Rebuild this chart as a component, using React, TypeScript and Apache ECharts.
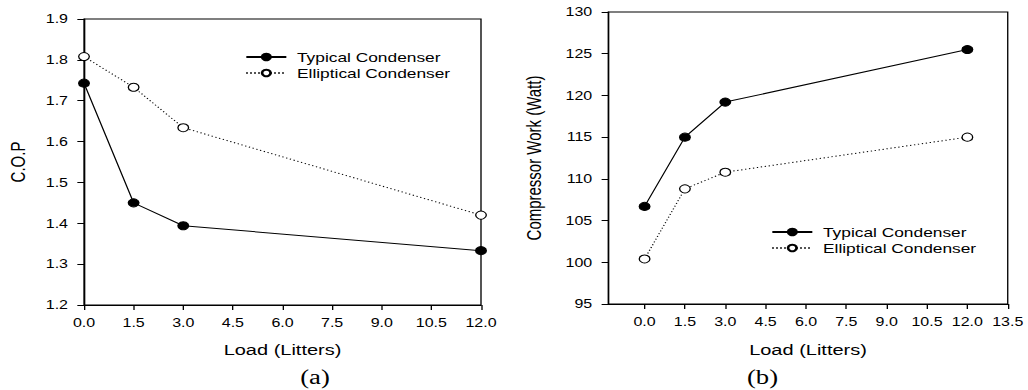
import React, { useEffect, useRef } from "react";
import * as echarts from "echarts";

// Load in litres for every measurement
const loads = [0, 1.5, 3, 12];

// (a) coefficient of performance
const copTypical = [1.743, 1.45, 1.394, 1.333];
const copElliptical = [1.808, 1.733, 1.634, 1.42];

// (b) compressor work in watts
const workTypical = [106.7, 115.0, 119.2, 125.5];
const workElliptical = [100.4, 108.8, 110.8, 115.0];

const seriesNames = ["Typical Condenser", "Elliptical Condenser"];
const panelLabels = ["(a)", "(b)"];
const xTicksRight = [0, 1.5, 3, 4.5, 6, 7.5, 9, 10.5, 12, 13.5];

// The figure is drawn narrow and widened horizontally as a whole.
const STRETCH = 4 / 3;
const WIDTH = Math.round(1028 / STRETCH);
const HEIGHT = 390;

const FONT = "'Liberation Sans', Arial, sans-serif";
const SERIF = "'Liberation Serif', 'Times New Roman', serif";

const pairs = (ys: number[]) => loads.map((x, i) => [x, ys[i]]);

const tickLabel = {
  color: "#000",
  fontFamily: FONT,
  fontSize: 12,
  margin: 12,
};

const axisName = {
  color: "#000",
  fontFamily: FONT,
  fontSize: 15,
};

const axisLine = { show: true, onZero: false, lineStyle: { color: "#000", width: 1 } };
const axisTick = { show: true, length: 5, lineStyle: { color: "#000" } };

const solidSeries = (name: string, data: number[][], idx: number) => ({
  type: "line",
  name,
  data,
  xAxisIndex: idx,
  yAxisIndex: idx,
  symbol: "circle",
  symbolSize: 8,
  itemStyle: { color: "#000", borderColor: "#000", borderWidth: 1 },
  lineStyle: { color: "#000", width: 1, type: "solid" },
  z: 3,
});

const dottedSeries = (name: string, data: number[][], idx: number) => ({
  type: "line",
  name,
  data,
  xAxisIndex: idx,
  yAxisIndex: idx,
  symbol: "circle",
  symbolSize: 8,
  itemStyle: { color: "#fff", borderColor: "#000", borderWidth: 1 },
  lineStyle: { color: "#000", width: 1, type: [1, 2] },
  z: 3,
});

const legendBase = {
  orient: "vertical",
  padding: 0,
  itemWidth: 30,
  itemHeight: 8,
  itemGap: 2,
  data: seriesNames,
  textStyle: {
    color: "#000",
    fontFamily: FONT,
    fontSize: 13,
    lineHeight: 14,
    padding: [0, 0, 0, 3],
  },
};

export default function App() {
  const ref = useRef<HTMLDivElement>(null);

  useEffect(() => {
    if (!ref.current) return;
    const chart = echarts.init(ref.current, undefined, { renderer: "svg" });
    chart.setOption({
      animation: false,
      backgroundColor: "#fff",
      grid: [
        {
          left: 63,
          right: WIDTH - 360.75,
          top: 19,
          bottom: HEIGHT - 305,
          show: true,
          borderColor: "#000",
          borderWidth: 1,
          backgroundColor: "transparent",
        },
        {
          left: 456.2,
          right: WIDTH - 755.8,
          top: 12,
          bottom: HEIGHT - 304,
          show: true,
          borderColor: "#000",
          borderWidth: 1,
          backgroundColor: "transparent",
        },
      ],
      xAxis: [
        {
          type: "value",
          gridIndex: 0,
          min: 0,
          max: 12,
          interval: 1.5,
          name: "Load (Litters)",
          nameLocation: "middle",
          nameGap: 37,
          nameTextStyle: axisName,
          axisLine,
          axisTick,
          axisLabel: { ...tickLabel, formatter: (v: number) => v.toFixed(1) },
          splitLine: { show: false },
        },
        {
          type: "value",
          gridIndex: 1,
          min: -1.35,
          max: 13.5,
          name: "Load (Litters)",
          nameLocation: "middle",
          nameGap: 38,
          nameTextStyle: axisName,
          axisLine,
          axisTick: { ...axisTick, customValues: xTicksRight },
          axisLabel: {
            ...tickLabel,
            customValues: xTicksRight,
            formatter: (v: number) => v.toFixed(1),
          },
          splitLine: { show: false },
        },
      ],
      yAxis: [
        {
          type: "value",
          gridIndex: 0,
          min: 1.2,
          max: 1.9,
          interval: 0.1,
          name: "C.O.P",
          nameLocation: "middle",
          nameGap: 42,
          nameTextStyle: axisName,
          axisLine,
          axisTick,
          axisLabel: { ...tickLabel, formatter: (v: number) => v.toFixed(1) },
          splitLine: { show: false },
        },
        {
          type: "value",
          gridIndex: 1,
          min: 95,
          max: 130,
          interval: 5,
          name: "Compressor Work (Watt)",
          nameLocation: "middle",
          nameGap: 48,
          nameTextStyle: axisName,
          axisLine,
          axisTick,
          axisLabel: { ...tickLabel },
          splitLine: { show: false },
        },
      ],
      legend: [
        { ...legendBase, left: 183.75, top: 50 },
        { ...legendBase, left: 578.25, top: 225 },
      ],
      series: [
        solidSeries(seriesNames[0], pairs(copTypical), 0),
        dottedSeries(seriesNames[1], pairs(copElliptical), 0),
        solidSeries(seriesNames[0], pairs(workTypical), 1),
        dottedSeries(seriesNames[1], pairs(workElliptical), 1),
      ],
      graphic: [
        {
          type: "text",
          x: 236.25,
          y: 377,
          style: {
            text: panelLabels[0],
            fill: "#000",
            font: `20px ${SERIF}`,
            textAlign: "center",
            textVerticalAlign: "middle",
          },
        },
        {
          type: "text",
          x: 571.9,
          y: 377,
          style: {
            text: panelLabels[1],
            fill: "#000",
            font: `20px ${SERIF}`,
            textAlign: "center",
            textVerticalAlign: "middle",
          },
        },
      ],
    });
    return () => chart.dispose();
  }, []);

  return (
    <div
      ref={ref}
      style={{
        position: "absolute",
        left: 0,
        top: 0,
        width: WIDTH,
        height: HEIGHT,
        transform: `scaleX(${STRETCH})`,
        transformOrigin: "0 0",
      }}
    />
  );
}
